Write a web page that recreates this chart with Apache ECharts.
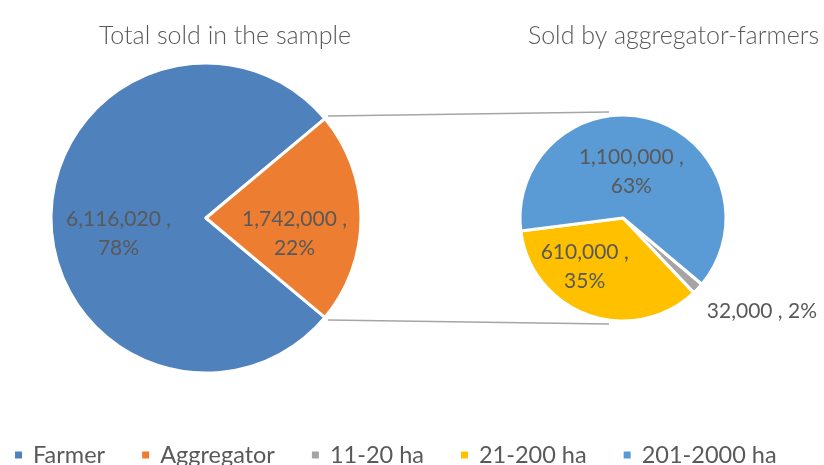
<!DOCTYPE html>
<html>
<head>
<meta charset="utf-8">
<script src="https://cdn.jsdelivr.net/npm/echarts@6/dist/echarts.min.js"></script>
<style>
  html, body { margin: 0; padding: 0; background: #fff; }
  #chart { width: 824px; height: 465px; }
</style>
</head>
<body>
<div id="chart"></div>
<script>
// main pie
const mainNames = ['Farmer', 'Aggregator']
const mainValues = [6116020, 1742000]
// secondary pie (aggregator breakdown)
const subNames = ['11-20 ha', '21-200 ha', '201-2000 ha']
const subValues = [32000, 610000, 1100000]

const titles = ['Total sold in the sample', 'Sold by aggregator-farmers']

const FONT = 'Lato'
const TEXT = '#595959'

const C1 = [206, 218], R1 = 155
const C2 = [623, 218], R2 = 103

const total = mainValues[0] + mainValues[1]
const aggDeg = mainValues[1] / total * 360
// farmer starts just below 3 o'clock so aggregator sits centred on the right
const mainStart = 360 - aggDeg / 2

const subTotal = subValues.reduce((a, b) => a + b, 0)
// 11-20 ha first, clockwise; yellow/blue boundary lands at ~187deg
const subStart = 187.3 + (subValues[0] + subValues[1]) / subTotal * 360

const fmt = v => v.toLocaleString('en-US')

const chart = echarts.init(document.getElementById('chart'))

const rad = (aggDeg / 2) * Math.PI / 180
const p1 = [C1[0] + (R1 + 4) * Math.cos(rad), C1[1] - (R1 + 4) * Math.sin(rad)]
const p2 = [C1[0] + (R1 + 4) * Math.cos(rad), C1[1] + (R1 + 4) * Math.sin(rad)]

const labelStyle = {
  position: 'inside',
  formatter: p => fmt(p.value) + ' ,\n' + Math.round(p.percent) + '%',
  fontFamily: FONT,
  fontSize: 21,
  lineHeight: 29,
  color: TEXT,
}

chart.setOption({
  animation: false,
  textStyle: { fontFamily: FONT },
  color: ['#4F81BD', '#ED7D31', '#A5A5A5', '#FFC000', '#5B9BD5'],
  title: [
    {
      text: titles[0], left: 220, top: 18, textAlign: 'center',
      textStyle: { fontFamily: FONT, fontSize: 25, fontWeight: 300, color: TEXT },
    },
    {
      text: titles[1], right: 0, top: 18,
      textStyle: { fontFamily: FONT, fontSize: 25, fontWeight: 300, color: TEXT },
    },
  ],
  legend: {
    data: mainNames.concat(subNames),
    left: 13,
    top: 443,
    padding: 0,
    icon: 'rect',
    itemWidth: 9,
    itemHeight: 9,
    itemGap: 35,
    textStyle: { fontFamily: FONT, fontSize: 23.5, color: TEXT, padding: [0, 0, 0, 5] },
  },
  graphic: [
    {
      type: 'line',
      shape: { x1: p1[0], y1: p1[1], x2: C2[0] - 14, y2: C2[1] - R2 - 3 },
      style: { stroke: '#A5A5A5', lineWidth: 1.5 },
    },
    {
      type: 'line',
      shape: { x1: p2[0], y1: p2[1], x2: C2[0] - 14, y2: C2[1] + R2 + 3 },
      style: { stroke: '#A5A5A5', lineWidth: 1.5 },
    },
  ],
  series: [
    {
      type: 'pie',
      center: C1,
      radius: R1,
      startAngle: mainStart,
      clockwise: true,
      itemStyle: { borderColor: '#fff', borderWidth: 3 },
      label: labelStyle,
      labelLine: { show: false },
      data: mainNames.map((n, i) => ({
        name: n,
        value: mainValues[i],
        label: i === 0 ? { offset: [-7, 16] } : { offset: [8, 16] },
      })),
    },
    {
      type: 'pie',
      center: C2,
      radius: R2,
      startAngle: subStart,
      clockwise: true,
      itemStyle: { borderColor: '#fff', borderWidth: 3 },
      label: labelStyle,
      labelLine: { show: false },
      data: subNames.map((n, i) => {
        const d = { name: n, value: subValues[i] }
        if (i === 0) {
          d.label = {
            position: 'outside',
            formatter: p => fmt(p.value) + ' , ' + Math.round(p.percent) + '%',
            distanceToLabelLine: 0,
            offset: [6, 20],
          }
          d.labelLine = { show: false, length: 4, length2: 0 }
        } else if (i === 1) {
          d.label = { offset: [-20, -3] }
        } else {
          d.label = { offset: [-7, 6] }
        }
        return d
      }),
    },
  ],
})
</script>
</body>
</html>
